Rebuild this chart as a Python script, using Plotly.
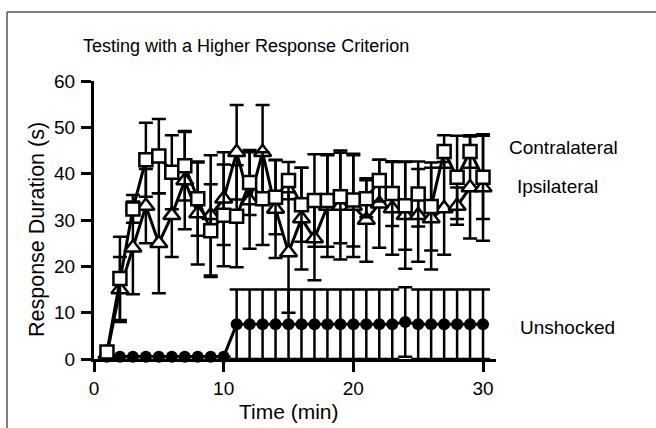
import plotly.graph_objects as go

time_min = list(range(1, 31))

contra = [1.5, 17.4, 32.4, 43.0, 43.8, 40.3, 41.7, 34.6, 27.7, 31.0,
          30.8, 38.1, 34.6, 34.9, 38.5, 33.3, 34.2, 34.2, 35.0, 34.3,
          34.6, 38.5, 35.7, 33.1, 35.6, 32.9, 44.8, 39.2, 44.8, 39.2]
contra_err = [0.5, 9.0, 3.0, 8.0, 8.0, 8.0, 7.5, 8.0, 10.0, 11.0,
              11.0, 7.0, 10.0, 8.0, 4.0, 8.0, 10.0, 10.0, 10.0, 10.0,
              4.0, 4.5, 7.0, 9.5, 7.0, 9.5, 3.5, 9.0, 3.5, 9.0]

ipsi = [1.0, 15.0, 24.0, 33.0, 25.0, 31.0, 38.5, 31.4, 31.0, 34.6,
        44.6, 34.2, 44.6, 32.4, 23.0, 30.3, 26.0, 33.0, 33.0, 33.0,
        30.0, 33.5, 32.5, 31.0, 31.0, 30.3, 32.5, 33.0, 37.0, 37.0]
ipsi_err = [0.5, 7.0, 10.0, 8.0, 10.8, 9.0, 10.5, 11.0, 13.0, 10.0,
            10.2, 10.4, 10.2, 10.6, 13.0, 11.0, 9.0, 11.0, 11.5, 11.0,
            9.0, 9.5, 10.0, 11.5, 10.0, 11.0, 10.0, 4.0, 11.0, 11.5]

unshocked = [0.5, 0.5, 0.5, 0.5, 0.5, 0.5, 0.5, 0.5, 0.5, 0.5,
             7.5, 7.5, 7.5, 7.5, 7.5, 7.5, 7.5, 7.5, 7.5, 7.5,
             7.5, 7.5, 7.5, 8.0, 7.5, 7.5, 7.5, 7.5, 7.5, 7.5]
unshocked_err = [0, 0, 0, 0, 0, 0, 0, 0, 0, 0,
                 7.5, 7.5, 7.5, 7.5, 7.5, 7.5, 7.5, 7.5, 7.5, 7.5,
                 7.5, 7.5, 7.5, 7.5, 7.5, 7.5, 7.5, 7.5, 7.5, 7.5]

series_labels = ["Contralateral", "Ipsilateral", "Unshocked"]
x_ticks = [0, 10, 20, 30]
y_ticks = [0, 10, 20, 30, 40, 50, 60]

FONT = "Liberation Sans, Arial, sans-serif"

fig = go.Figure()

def err(arr):
    return dict(type="data", array=arr, visible=True, color="black",
                thickness=2.5, width=7)

fig.add_trace(go.Scatter(
    x=time_min, y=unshocked, mode="lines+markers", name=series_labels[2],
    line=dict(color="black", width=3),
    marker=dict(symbol="circle", size=12, color="black"),
    error_y=err(unshocked_err), cliponaxis=False))

fig.add_trace(go.Scatter(
    x=time_min, y=ipsi, mode="lines+markers", name=series_labels[1],
    line=dict(color="black", width=3),
    marker=dict(symbol="triangle-up", size=15, color="white",
                line=dict(color="black", width=2.5)),
    error_y=err(ipsi_err), cliponaxis=False))

fig.add_trace(go.Scatter(
    x=time_min, y=contra, mode="lines+markers", name=series_labels[0],
    line=dict(color="black", width=3),
    marker=dict(symbol="square", size=13, color="white",
                line=dict(color="black", width=2.5)),
    error_y=err(contra_err), cliponaxis=False))

L, R, T, B = 94, 160, 81, 69
W, H = 656, 428
pw, ph = W - L - R, H - T - B

def px_to_paper(px, py):
    return (px - L) / pw, (H - B - py) / ph

x0p, y0p = px_to_paper(7, 12)

def ann(text, px, py, size, anchor="left"):
    x, y = px_to_paper(px, py)
    return dict(text=text, xref="paper", yref="paper", x=x, y=y, showarrow=False,
                font=dict(size=size), xanchor=anchor, yanchor="middle")

fig.update_layout(
    width=W, height=H,
    margin=dict(l=L, r=R, t=T, b=B),
    paper_bgcolor="white", plot_bgcolor="white",
    showlegend=False,
    font=dict(family=FONT, color="black", size=18),
    xaxis=dict(range=[0, 31], tickvals=x_ticks, showgrid=False, zeroline=False,
               showline=True, linecolor="black", linewidth=3,
               ticks="outside", ticklen=10, tickwidth=3, tickcolor="black",
               tickfont=dict(size=19)),
    yaxis=dict(range=[0, 60], tickvals=y_ticks, showgrid=False, zeroline=False,
               showline=True, linecolor="black", linewidth=3,
               ticks="outside", ticklen=10, tickwidth=3, tickcolor="black",
               tickfont=dict(size=19), ticklabelstandoff=2),
    shapes=[
        dict(type="line", xref="paper", yref="paper", x0=x0p, x1=x0p, y0=y0p, y1=-1,
             line=dict(color="#555555", width=1.5)),
        dict(type="line", xref="paper", yref="paper", x0=x0p, x1=2, y0=y0p, y1=y0p,
             line=dict(color="#555555", width=1.5)),
    ],
    annotations=[
        ann("Testing with a Higher Response Criterion", 246, 46, 18, "center"),
        ann(series_labels[0], 507, 147, 19),
        ann(series_labels[1], 515, 186, 19),
        ann(series_labels[2], 518, 327, 19),
        ann("Time (min)", 288.5, 411, 21, "center"),
        dict(text="Response Duration (s)", xref="paper", yref="paper",
             x=px_to_paper(37, 230)[0], y=px_to_paper(37, 230)[1], showarrow=False,
             textangle=-90, font=dict(size=21.5), xanchor="center", yanchor="middle"),
    ],
)

fig.write_html("out.html", post_script="document.body.style.margin='0px';",
               config={"displayModeBar": False})
